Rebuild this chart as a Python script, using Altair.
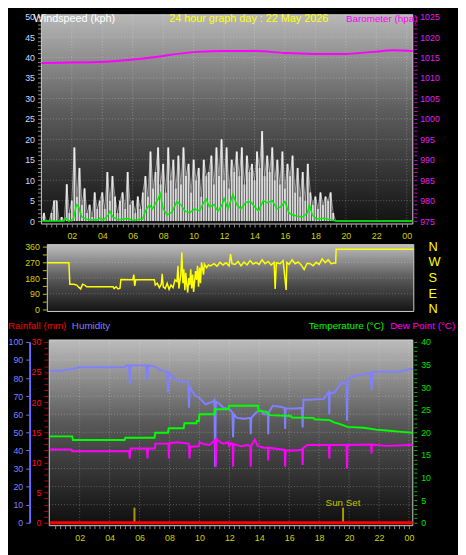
import altair as alt
import pandas as pd

FONT = "Liberation Sans"
W, H = 458, 547

# ---------------- text ----------------
title_main = "24 hour graph day : 22 May 2026"
title_wind = "Windspeed (kph)"
title_baro = "Barometer (hpa)"
title_rain = "Rainfall (mm)"
title_hum = "Humidity"
title_temp = "Temperature (°C)"
title_dew = "Dew Point (°C)"

hour_ticks = list(range(2, 25, 2))

# ---------------- data ----------------
# wind gust, one sample every 10 minutes from 00:00
gust_kph = [
    0, 2, 0, 0, 2, 5,
    5, 0, 1, 0, 9, 2,
    5, 18, 6, 13, 4, 8,
    2, 4, 1, 7, 3, 5,
    7, 3, 12, 5, 11, 6,
    2, 5, 7, 3, 12, 4,
    5, 2, 6, 3, 7, 11,
    6, 17, 8, 12, 18, 9,
    14, 7, 18, 10, 15, 8,
    16, 9, 18, 11, 14, 7,
    15, 10, 13, 6, 15, 11,
    12, 16, 9, 18, 11, 20,
    10, 18, 8, 15, 12, 17,
    11, 18, 9, 16, 12, 14,
    10, 17, 13, 22, 11, 16,
    12, 18, 10, 15, 9, 17,
    8, 14, 11, 16, 7, 13,
    6, 12, 5, 14, 7, 4,
    6, 3, 7, 4, 6, 5,
    7, 2, 0, 0, 0, 0,
    0, 0, 0, 0, 0, 0,
    0, 0, 0, 0, 0, 0,
    0, 0, 0, 0, 0, 0,
    0, 0, 0, 0, 0, 0,
    0, 0, 0,
]

avg_pts = [
    (0, 0), (1.48, 0), (1.6, 0.7), (1.8, 0), (2.1, 0.5), (2.3, 4), (2.45, 3.5), (2.65, 1),
    (3.1, 0.3), (3.74, 0.3), (3.87, 0.8), (4.06, 0.2), (4.39, 1.5), (4.5, 2.4), (4.7, 1.0),
    (5.03, 0.3), (5.68, 0.6), (6.0, 0.2), (6.65, 0.5), (6.84, 2.5), (7.1, 4.0), (7.29, 3.0),
    (7.48, 4.2), (7.68, 5.5), (7.8, 6.7), (8.0, 3.0), (8.26, 1.5), (8.58, 2.2), (8.9, 4.8),
    (9.16, 4.0), (9.42, 2.5), (9.74, 2.0), (10.06, 3.0), (10.39, 2.5), (10.65, 4.5),
    (10.84, 5.3), (11.03, 3.5), (11.35, 4.0), (11.6, 2.4), (11.87, 4.0), (12.0, 5.5),
    (12.26, 3.0), (12.58, 6.5), (12.84, 4.0), (13.1, 3.0), (13.42, 4.5), (13.74, 4.8),
    (14.0, 3.5), (14.26, 2.5), (14.58, 5.0), (14.84, 4.5), (15.16, 5.0), (15.48, 3.0),
    (15.74, 3.5), (16.0, 4.8), (16.26, 2.0), (16.52, 1.5), (16.84, 1.2), (17.16, 1.0),
    (17.48, 2.0), (17.61, 4.0), (17.8, 1.5), (18.06, 0.5), (18.58, 0.7), (19.03, 0.3),
    (19.35, 0), (24.4, 0),
]

baro_pts = [
    (0, 1013.7), (3.74, 1013.9), (6.97, 1014.9), (10.2, 1016.4), (12.1, 1016.6),
    (14.1, 1016.6), (16.0, 1016.1), (17.9, 1015.9), (19.9, 1015.9), (21.8, 1016.4),
    (23.1, 1016.8), (24.4, 1016.6),
]

dir_pts = [
    (0, 268), (1.44, 268), (1.5, 145), (1.77, 145), (1.96, 140), (2.09, 128), (2.22, 118),
    (2.35, 145), (2.49, 140), (2.62, 130), (4.38, 130), (4.45, 120), (4.58, 130), (4.71, 118),
    (4.84, 122), (4.9, 172), (5.69, 170), (5.76, 200), (5.82, 135), (5.89, 170), (7.13, 170),
    (7.19, 140), (7.32, 150), (7.46, 125), (7.59, 145), (7.65, 205), (7.72, 130), (7.85, 120),
    (7.98, 150), (8.11, 115), (8.24, 140), (8.37, 125), (8.5, 170), (8.63, 160), (8.7, 250),
    (8.76, 120), (8.89, 200), (8.96, 328), (9.03, 150), (9.09, 230), (9.16, 110), (9.22, 210),
    (9.29, 140), (9.35, 97), (9.42, 180), (9.48, 140), (9.55, 230), (9.61, 120), (9.68, 200),
    (9.74, 100), (9.87, 220), (9.94, 170), (10.0, 250), (10.07, 130), (10.14, 240),
    (10.2, 150), (10.27, 270), (10.4, 200), (10.46, 260), (10.6, 240), (10.73, 255),
    (10.86, 250), (11.1, 262), (11.3, 248), (11.5, 270), (11.7, 255), (11.9, 268),
    (12.1, 250), (12.2, 317), (12.3, 262), (12.5, 258), (12.7, 275), (12.9, 250),
    (13.1, 272), (13.3, 255), (13.5, 280), (13.7, 260), (13.9, 270), (14.1, 258),
    (14.3, 285), (14.5, 262), (14.7, 275), (14.9, 255), (15.1, 270), (15.17, 118),
    (15.25, 268), (15.5, 262), (15.7, 280), (15.9, 112), (15.95, 270), (16.1, 258),
    (16.3, 285), (16.5, 262), (16.7, 272), (16.9, 255), (17.1, 229), (17.3, 265),
    (17.5, 262), (17.7, 250), (17.9, 270), (18.1, 258), (18.3, 290), (18.5, 268),
    (18.7, 285), (18.9, 262), (19.1, 266), (19.2, 266), (19.23, 345), (24.4, 345),
]

hum_pts = [
    (0, 84), (0.8, 84), (1.0, 84.5), (1.6, 85), (1.95, 86), (5.0, 86), (5.1, 87), (5.3, 87),
    (5.35, 77), (5.4, 87), (6.45, 87), (6.52, 79), (6.58, 87), (7.0, 86.5), (7.5, 84),
    (7.85, 83.5), (7.9, 72), (7.95, 83), (8.4, 79), (8.8, 78), (9.25, 78), (9.3, 63.6),
    (9.36, 75), (9.7, 70.5), (10.0, 69), (10.4, 65.5), (10.9, 67), (11.0, 68), (11.05, 31),
    (11.1, 67), (11.3, 66), (11.6, 63.6), (12.0, 63), (12.2, 61), (12.25, 47.3), (12.3, 60),
    (12.5, 58), (13.0, 57.5), (13.4, 58), (13.43, 49), (13.47, 58), (13.8, 61), (14.1, 62),
    (14.3, 60), (14.58, 60), (14.6, 49), (14.63, 61), (14.9, 64.7), (15.5, 64), (15.7, 63.5),
    (15.73, 51.8), (15.76, 63.2), (16.5, 63.2), (16.85, 63.5), (16.9, 52.7), (16.95, 68),
    (17.3, 68), (18.3, 68.5), (18.65, 72.5), (18.68, 60), (18.71, 72), (19.0, 71.7),
    (19.45, 77), (19.83, 77.5), (19.86, 56.4), (19.9, 79), (20.3, 81), (21.0, 82),
    (21.45, 83), (21.5, 73.5), (21.55, 83), (21.7, 83.5), (23.4, 83.5), (24.07, 85),
    (24.26, 85),
]

temp_pts = [
    (0, 19.1), (1.5, 19.1), (1.55, 18.3), (5.0, 18.3), (5.05, 18.8), (7.0, 18.8), (7.05, 19.9),
    (7.9, 19.9), (7.95, 20.9), (8.95, 20.9), (9.0, 22.0), (9.8, 22.0), (9.83, 22.5),
    (9.97, 22.5), (10.0, 24.0), (11.0, 24.0), (11.05, 25.1), (11.95, 25.1), (11.98, 25.9),
    (13.92, 25.9), (13.95, 24.8), (14.5, 24.5), (14.7, 23.8), (16.1, 23.6), (16.2, 23.3),
    (17.6, 23.2), (17.7, 22.9), (18.7, 22.7), (19.0, 22.2), (19.4, 21.8), (19.9, 21.2),
    (21.0, 21.0), (21.8, 20.6), (22.5, 20.4), (23.5, 20.1), (24.26, 19.9),
]

dew_pts = [
    (0, 16.2), (1.45, 16.2), (1.5, 15.8), (5.3, 15.8), (5.35, 14.2), (5.4, 16.4), (6.5, 16.4),
    (6.53, 14.2), (6.56, 16.4), (7.03, 16.4), (7.06, 17.5), (7.93, 17.5), (7.96, 14.2),
    (8.0, 17.6), (8.5, 17.8), (9.3, 17.5), (9.34, 14.2), (9.38, 16.8), (9.95, 16.9),
    (10.0, 17.8), (10.3, 17.4), (10.67, 17.2), (11.05, 18.3), (11.1, 12.4), (11.15, 18.5),
    (11.4, 17.8), (11.6, 17.5), (11.9, 17.8), (12.0, 16.9), (12.1, 17.6), (12.23, 17.4),
    (12.25, 12.4), (12.28, 17.4), (12.8, 16.9), (13.2, 17.2), (13.4, 17.0), (13.43, 12.4),
    (13.46, 17.0), (13.7, 18.4), (13.9, 17.0), (14.3, 16.6), (14.57, 16.6), (14.6, 13.8),
    (14.63, 16.6), (15.7, 16.1), (15.73, 12.4), (15.76, 16.0), (16.5, 16.0), (16.87, 16.2),
    (16.9, 12.8), (16.93, 16.5), (17.2, 17.2), (18.65, 17.2), (18.68, 14.2), (18.71, 17.2),
    (19.83, 17.2), (19.86, 12.0), (19.9, 17.2), (21.47, 17.3), (21.5, 15.3), (21.53, 17.3),
    (22.5, 17.0), (24.26, 17.2),
]

rain_pts = [(0, 0), (24.26, 0)]

sun_hours = [5.66, 19.6]
sun_mark_mm = [2.5, 2.5]
sun_text = ["", "Sun Set"]
sun_text_mm = [3.3, 3.3]

compass = ["N", "W", "S", "E", "N"]
compass_deg = [360, 270, 180, 90, 0]

wind_grid = list(range(5, 50, 5))
dir_grid = [90, 180, 270]
hum_grid = list(range(10, 100, 10))


def frame(pairs, name):
    return pd.DataFrame({"t": [a for a, _ in pairs], name: [b for _, b in pairs]})


# ---------------- scales ----------------
XDOM = {1: [0, 24.4], 2: [0, 24.4], 3: [0, 24.26]}
XRNG = {1: [34, 412], 2: [40, 413], 3: [42.5, 412]}


def xs(p):
    return alt.Scale(domain=XDOM[p], range=XRNG[p], nice=False, zero=False)


def ys(dom, rng):
    return alt.Scale(domain=dom, range=rng, nice=False, zero=False)


S_WIND = lambda: ys([0, 50], [212, 4])
S_BARO = lambda: ys([975, 1025], [212, 4])
S_DIR = lambda: ys([0, 360], [302, 238])
S_HUM = lambda: ys([0, 100], [519, 335])
S_RAIN = lambda: ys([0, 30], [519, 335])
S_TEMP = lambda: ys([0, 40], [519, 335])

XLABEL = ("datum.value % 2 == 0 ? ((datum.value % 24) < 10 ? '0' + (datum.value % 24) "
          ": '' + datum.value) : ''")


def xaxis(offset):
    return alt.Axis(orient="bottom", offset=offset, values=[i / 3 for i in range(1, 73)],
                    labelExpr=XLABEL, tickColor="#8a8a8a", tickSize=3, labelColor="#d4d400",
                    labelFont=FONT, labelFontSize=9, labelPadding=5, domain=False, grid=False,
                    labelOverlap=False, labelBound=False, labelFlush=False, title=None)


def yaxis(orient, offset, values, every, tick_color, label_color, tick_size=3, pad=3,
          domain=False, domain_color="#000000"):
    return alt.Axis(orient=orient, offset=offset, values=values,
                    labelExpr=f"datum.value % {every} == 0 ? datum.label : ''", format="d",
                    tickColor=tick_color, tickSize=tick_size, labelColor=label_color,
                    labelFont=FONT, labelFontSize=9, labelPadding=pad, domain=domain,
                    domainColor=domain_color, domainWidth=2, grid=False, labelOverlap=False,
                    labelBound=False, labelFlush=False, title=None)


def grad(stops):
    return alt.LinearGradient(gradient="linear", x1=0, y1=0, x2=0, y2=1,
                              stops=[alt.GradientStop(color=c, offset=o) for o, c in stops])


one = pd.DataFrame({"a": [0]})


def panel_bg(x1, x2, y1, y2, stops):
    return alt.Chart(one).mark_rect(fill=grad(stops), stroke="#cfcfcf", strokeWidth=1).encode(
        x=alt.value(x1), x2=alt.value(x2), y=alt.value(y1), y2=alt.value(y2))


def label(text, x, y, color, size=11, align="left", baseline="middle"):
    return alt.Chart(pd.DataFrame({"s": [text]})).mark_text(
        align=align, baseline=baseline, color=color, font=FONT, fontSize=size).encode(
        x=alt.value(x), y=alt.value(y), text="s:N")


GRID = dict(color="#ffffff", opacity=0.28, strokeDash=[1, 2], strokeWidth=1)

layers = []

# ---------- panel backgrounds ----------
layers.append(panel_bg(34, 412, 2, 215, [(0, "#b8b8b8"), (0.45, "#5e5e5e"), (1, "#121212")]))
layers.append(panel_bg(40, 413, 236, 304, [(0, "#bdbdbd"), (0.5, "#5a5a5a"), (1, "#141414")]))
layers.append(panel_bg(42, 412, 333, 522, [(0, "#bcbcbc"), (0.45, "#585858"), (1, "#0e0e0e")]))

# ---------- grids ----------
hrs = pd.DataFrame({"h": hour_ticks})
layers.append(alt.Chart(hrs).mark_rule(**GRID).encode(
    x=alt.X("h:Q", scale=xs(1), axis=None), y=alt.value(2), y2=alt.value(215)))
layers.append(alt.Chart(pd.DataFrame({"v": wind_grid})).mark_rule(**GRID).encode(
    y=alt.Y("v:Q", scale=S_WIND(), axis=None), x=alt.value(34), x2=alt.value(412)))
layers.append(alt.Chart(pd.DataFrame({"v": dir_grid})).mark_rule(**GRID).encode(
    y=alt.Y("v:Q", scale=S_DIR(), axis=None), x=alt.value(40), x2=alt.value(413)))
layers.append(alt.Chart(hrs).mark_rule(**GRID).encode(
    x=alt.X("h:Q", scale=xs(3), axis=None), y=alt.value(333), y2=alt.value(522)))
layers.append(alt.Chart(pd.DataFrame({"v": hum_grid})).mark_rule(**GRID).encode(
    y=alt.Y("v:Q", scale=S_HUM(), axis=None), x=alt.value(42), x2=alt.value(412)))

# ---------- panel 1: wind + barometer ----------
gust_df = pd.DataFrame({"t": [i / 6 for i in range(len(gust_kph))], "g": gust_kph,
                        "z": [0] * len(gust_kph)})
layers.append(alt.Chart(gust_df).mark_rule(color="#ececec", strokeWidth=2.0, opacity=0.9).encode(
    x=alt.X("t:Q", scale=xs(1), axis=xaxis(-332)),
    y=alt.Y("z:Q", scale=S_WIND(),
            axis=yaxis("left", -33, list(range(0, 51)), 5, "#8c8c8c", "#c8dcff")),
    y2="g:Q"))
layers.append(alt.Chart(gust_df).mark_line(color="#ffffff", strokeWidth=1, opacity=0.5).encode(
    x=alt.X("t:Q", scale=xs(1), axis=None),
    y=alt.Y("g:Q", scale=S_WIND(), axis=None)))
layers.append(alt.Chart(frame(avg_pts, "w")).mark_line(color="#00ee00", strokeWidth=1.5).encode(
    x=alt.X("t:Q", scale=xs(1), axis=None),
    y=alt.Y("w:Q", scale=S_WIND(), axis=None)))
layers.append(alt.Chart(frame(baro_pts, "p")).mark_line(
    color="#ff00ff", strokeWidth=2, interpolate="monotone").encode(
    x=alt.X("t:Q", scale=xs(1), axis=None),
    y=alt.Y("p:Q", scale=S_BARO(),
            axis=yaxis("right", -45, list(range(975, 1026)), 5, "#d000d0", "#e020e8", pad=3))))

# ---------- panel 2: wind direction ----------
layers.append(alt.Chart(frame(dir_pts, "d")).mark_line(color="#ffff00", strokeWidth=1.5).encode(
    x=alt.X("t:Q", scale=xs(2), axis=None),
    y=alt.Y("d:Q", scale=S_DIR(),
            axis=yaxis("left", -39, list(range(0, 361, 45)), 90, "#c8c800", "#d4d400",
                       tick_size=4, pad=3))))
layers.append(alt.Chart(pd.DataFrame({"c": compass, "d": compass_deg})).mark_text(
    color="#ffff00", font=FONT, fontSize=13, align="left", baseline="middle").encode(
    x=alt.value(428),
    y=alt.Y("d:Q", scale=S_DIR(), axis=None), text="c:N"))

# ---------- panel 3: rain, humidity, temperature, dew point ----------
layers.append(alt.Chart(frame(hum_pts, "h")).mark_line(color="#8080ff", strokeWidth=2).encode(
    x=alt.X("t:Q", scale=xs(3), axis=None),
    y=alt.Y("h:Q", scale=S_HUM(),
            axis=yaxis("left", -22, list(range(0, 101, 10)), 10, "#7070ff", "#8080ff",
                       tick_size=4, pad=3, domain=True, domain_color="#6a6aff"))))
layers.append(alt.Chart(frame(temp_pts, "c")).mark_line(color="#00ff00", strokeWidth=2).encode(
    x=alt.X("t:Q", scale=xs(3), axis=None),
    y=alt.Y("c:Q", scale=S_TEMP(),
            axis=yaxis("right", -45, list(range(0, 41)), 5, "#00c000", "#00e000", pad=4))))
layers.append(alt.Chart(frame(dew_pts, "c")).mark_line(color="#ff00ff", strokeWidth=2).encode(
    x=alt.X("t:Q", scale=xs(3), axis=None),
    y=alt.Y("c:Q", scale=S_TEMP(), axis=None)))
sun_df = pd.DataFrame({"t": sun_hours, "m": sun_mark_mm, "z": [0, 0], "s": sun_text,
                       "mt": sun_text_mm})
layers.append(alt.Chart(sun_df).mark_rule(color="#a89c00", strokeWidth=2).encode(
    x=alt.X("t:Q", scale=xs(3), axis=None),
    y=alt.Y("z:Q", scale=S_RAIN(), axis=None), y2="m:Q"))
layers.append(alt.Chart(sun_df).mark_text(
    color="#c8c000", font=FONT, fontSize=10, align="center", baseline="middle").encode(
    x=alt.X("t:Q", scale=xs(3), axis=None),
    y=alt.Y("mt:Q", scale=S_RAIN(), axis=None), text="s:N"))
layers.append(alt.Chart(frame(rain_pts, "r")).mark_line(color="#ff0000", strokeWidth=3).encode(
    x=alt.X("t:Q", scale=xs(3), axis=xaxis(-25)),
    y=alt.Y("r:Q", scale=S_RAIN(),
            axis=yaxis("left", -40.5, list(range(0, 31)), 5, "#c80000", "#ff1010",
                       tick_size=4, pad=3))))

# ---------- titles ----------
layers.append(label(title_wind, 26, 6, "#ffffff"))
layers.append(label(title_main, 164, 6, "#ffff00"))
layers.append(label(title_baro, 344, 6, "#ff00ff", size=10))
layers.append(label(title_rain, 0, 319, "#ff0000", size=10))
layers.append(label(title_hum, 65, 319, "#8080ff", size=10))
layers.append(label(title_temp, 306, 319, "#00ff00", size=10))
layers.append(label(title_dew, 389, 319, "#ff00ff", size=10))

chart = alt.layer(*layers).resolve_scale(x="independent", y="independent").properties(
    width=W, height=H, padding=0, background="#000000",
    autosize=alt.AutoSizeParams(type="none"),
).configure_view(strokeWidth=0, fill="#000000")

chart.save("out.html", embed_options={"renderer": "svg", "actions": False})
